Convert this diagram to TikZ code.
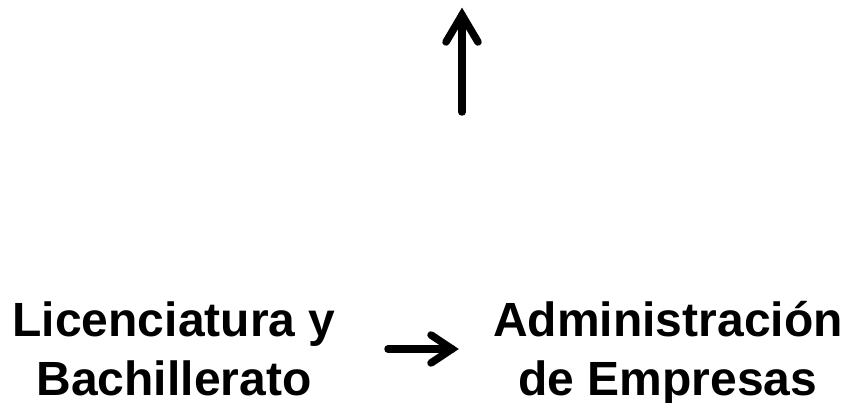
\documentclass[tikz,border=0pt]{standalone}
\usepackage{fontspec}
\setmainfont{Liberation Sans}
\begin{document}
\begin{tikzpicture}[x=1pt,y=1pt,
  lbl/.style={inner sep=0pt, align=center, font=\fontsize{48}{59}\selectfont\bfseries},
  thick arrow/.style={line width=7.5pt, line cap=round, line join=miter}]
\useasboundingbox (0,0) rectangle (852,403);
% text blocks (pixel y converted: 403 - y); base anchor = last line baseline
\node[lbl, anchor=base] (lic) at (174,7) {Licenciatura y\\Bachillerato};
\node[lbl, anchor=base] (adm) at (668,7) {Administración\\de Empresas};
% up arrow
\coordinate (ub) at (462,291);
\coordinate (ut) at (462,388);
\coordinate (ul) at (446,361);
\coordinate (ur) at (478,361);
\draw[thick arrow] (ub) -- (ut);
\draw[thick arrow] (ul) -- (ut) -- (ur);
% right arrow
\coordinate (rs) at (388,54);
\coordinate (re) at (452,54);
\coordinate (ra) at (431,68);
\coordinate (rb) at (431,40);
\draw[thick arrow] (rs) -- (re);
\draw[thick arrow] (ra) -- (re) -- (rb);
\end{tikzpicture}
\end{document}
